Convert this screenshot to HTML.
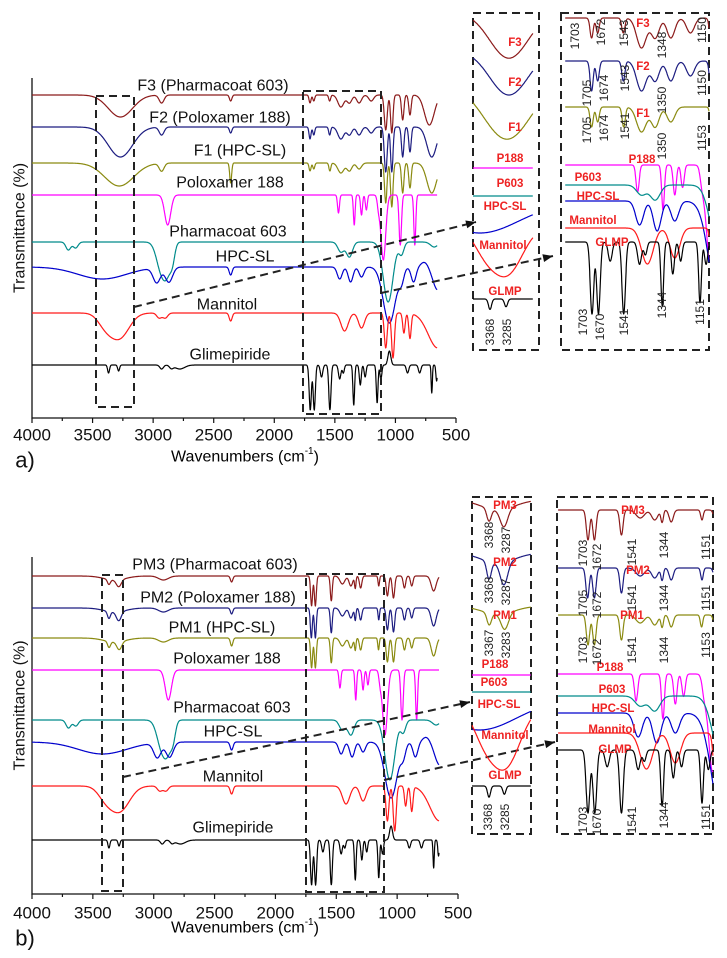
<!DOCTYPE html>
<html><head><meta charset="utf-8"><style>
html,body{margin:0;padding:0;background:#fff}
svg{display:block}
text{font-family:"Liberation Sans",Arial,sans-serif}
.tl{font-size:17px;fill:#111}
.sl{font-size:16px;fill:#111}
.il{font-size:11.5px;font-weight:bold;fill:#ee2222}
.nl{font-size:12px;fill:#222}
</style></head><body>
<svg id="fig" width="727" height="958" viewBox="0 0 727 958" xmlns="http://www.w3.org/2000/svg">
<g id="root"></g>
</svg>
<script>
// ---- spectral data: [wavenumber (cm-1), band depth (%T), half-width (cm-1)] ----
const glmpPeaks=[[3368,8,8],[3285,6,8],[2930,4,15],[2850,3,15],[2780,4,40],[1703,45,9],[1670,45,9],[1610,12,10],[1541,45,9],[1460,14,10],[1430,8,8],[1344,40,7],[1290,20,8],[1250,12,8],[1151,38,7],[1120,14,8],[1050,-14,12],[900,8,10],[800,8,10],[700,28,5],[660,16,6]];
const mannPeaks=[[3400,10,60],[3280,25,80],[2950,5,20],[2900,5,20],[2360,8,12],[1420,18,30],[1280,15,25],[1080,35,12],[1020,45,12],[930,20,10],[880,25,10],[650,35,80]];
const hpcPeaks=[[3420,12,200],[2970,15,30],[2870,15,30],[2360,8,12],[1460,12,20],[1370,15,20],[1280,10,20],[1050,56,50],[950,12,20],[850,15,20],[760,-5,30],[650,23,40]];
const p603Peaks=[[3700,8,20],[3640,6,20],[2930,30,40],[2880,20,30],[2840,15,20],[1450,10,25],[1380,15,25],[1060,60,40],[950,12,20],[680,5,30]];
const p188Peaks=[[2880,30,25],[1470,18,8],[1340,30,7],[1280,20,8],[1240,15,8],[1140,10,10],[1100,65,20],[960,50,10],[840,50,8]];
const f1Peaks=[[3280,23,120],[2930,8,20],[2360,20,8],[1705,8,8],[1674,6,8],[1541,8,8],[1450,10,25],[1380,8,20],[1300,6,20],[1080,40,10],[1030,44,10],[940,30,10],[880,25,10],[700,30,40]];
const f2Peaks=[[3270,30,100],[2930,8,20],[2360,6,10],[1705,12,8],[1674,8,8],[1543,8,8],[1450,12,25],[1380,8,20],[1300,8,20],[1200,6,20],[1080,45,12],[1030,45,10],[940,30,10],[880,25,10],[700,30,40]];
const f3Peaks=[[3270,22,100],[2930,8,20],[2360,6,10],[1705,8,8],[1674,6,8],[1543,6,8],[1450,12,25],[1380,8,20],[1300,8,20],[1200,6,20],[1080,35,12],[1030,38,10],[940,25,10],[880,20,10],[720,30,40]];
const pm3Peaks=[[3368,5,12],[3287,7,20],[3320,4,90],[2920,4,40],[2360,6,10],[1703,30,8],[1672,30,8],[1541,25,8],[1450,8,20],[1380,10,15],[1344,12,6],[1300,12,10],[1151,10,6],[1080,20,10],[1030,22,10],[940,12,10],[880,10,10],[700,15,20]];
const pm2Peaks=[[3368,7,12],[3287,9,20],[3320,4,90],[2920,4,40],[2360,6,10],[1705,30,8],[1672,30,8],[1541,25,8],[1450,8,20],[1380,10,15],[1344,12,6],[1300,12,10],[1151,12,6],[1080,22,10],[1030,24,10],[940,12,10],[880,10,10],[700,18,20]];
const pm1Peaks=[[3367,6,12],[3283,8,20],[3320,4,90],[2920,4,40],[2360,8,10],[1703,30,8],[1672,30,8],[1541,25,8],[1450,8,20],[1380,10,15],[1344,12,6],[1300,12,10],[1153,12,6],[1080,24,10],[1030,24,10],[940,12,10],[880,10,10],[700,18,20]];
const xTicks=[4000,3500,3000,2500,2000,1500,1000,500];
const bandLabelsA_F3=["1703","1672","1543","1348","1150"];
const bandLabelsA_F2=["1705","1674","1543","1350","1150"];
const bandLabelsA_F1=["1705","1674","1541","1350","1153"];
const bandLabelsGLMP=["1703","1670","1541","1344","1151"];
const bandLabelsPM3=["1703","1672","1541","1344","1151"];
const bandLabelsPM2=["1705","1672","1541","1344","1151"];
const bandLabelsPM1=["1703","1672","1541","1344","1153"];

const NS="http://www.w3.org/2000/svg";
const root=document.getElementById('root');
function mk(tag,attrs,parent){const e=document.createElementNS(NS,tag);for(const k in attrs)e.setAttribute(k,attrs[k]);(parent||root).appendChild(e);return e;}
function txt(s,x,y,cls,parent,extra){const e=mk('text',Object.assign({x:x,y:y,class:cls,'text-anchor':'middle','dominant-baseline':'central'},extra||{}),parent);e.textContent=s;return e;}
function spec(peaks,w){let s=0;for(const p of peaks){const z=(w-p[0])/p[2];s+=p[1]*Math.exp(-0.5*z*z);}return s;}
function trace(peaks,xf,base,gain,w0,w1,step,color,name,width){
  let d='';for(let w=w0;w>=w1;w-=step){const x=xf(w),y=base+gain*spec(peaks,w);d+=(d?'L':'M')+x.toFixed(1)+','+y.toFixed(1);}
  const p=mk('path',{d:d,fill:'none',stroke:color,'stroke-width':width||1.2,'stroke-linejoin':'round'});
  
  
  return p;
}
function dash(x1,y1,x2,y2,name){const l=mk('line',{x1:x1,y1:y1,x2:x2,y2:y2,stroke:'#222','stroke-width':2,'stroke-dasharray':'8,5'});}
function box(x,y,w,h,name){const r=mk('rect',{x:x,y:y,width:w,height:h,fill:'none',stroke:'#222','stroke-width':2,'stroke-dasharray':'8,5'});}
function arrow(x1,y1,x2,y2,name){dash(x1,y1,x2,y2,name);const a=Math.atan2(y2-y1,x2-x1),L=10,W=4;
  const p=mk('polygon',{points:`${x2},${y2} ${x2-L*Math.cos(a)+W*Math.sin(a)},${y2-L*Math.sin(a)-W*Math.cos(a)} ${x2-L*Math.cos(a)-W*Math.sin(a)},${y2-L*Math.sin(a)+W*Math.cos(a)}`,fill:'#111'});
  }
function rot(s,x,y,name){const e=txt(s,x,y,'nl',root,{transform:`rotate(-90 ${x} ${y})`});}

const COL={f3:'#8b1a1a',f2:'#1c1c80',f1:'#8a8a10',p188:'#ff00ff',p603:'#008b8b',hpc:'#0000cc',mann:'#ff1a1a',glmp:'#000'};

function panel(axisY,topY,x500,letter,letterY,tickY,xlabY,series){
  const xf=w=>32+(4000-w)*(x500-32)/3500;
  const ax=mk('path',{d:`M32,${topY}L32,${axisY}L${x500},${axisY}`,fill:'none',stroke:'#111','stroke-width':1.3});
  
  for(let w=4000;w>=500;w-=250){mk('line',{x1:xf(w),x2:xf(w),y1:axisY,y2:axisY+(w%500?3:5),stroke:'#111','stroke-width':1.2});}
  for(const t of xTicks){const e=txt(String(t),xf(t),tickY,'tl');}
  const xl=mk('text',{x:245,y:xlabY,'text-anchor':'middle','dominant-baseline':'central',style:'font-size:16px'});xl.innerHTML='Wavenumbers (cm<tspan dy="-6" style="font-size:10px">-1</tspan><tspan dy="6">)</tspan>';
  
  const yt=txt('Transmittance (%)',20,(topY+axisY)/2-20,'sl',root,{transform:`rotate(-90 20 ${(topY+axisY)/2-20})`,style:'font-size:16px'});
  
  const lt=txt(letter+')',25,letterY,'sl',root,{style:'font-size:22px'});
  for(const s of series){trace(s.p,xf,s.b,1,4000,655,2,s.c,'spectrum-'+s.n);
    const l=txt(s.t,s.lx,s.ly,'sl');}
  return xf;
}
// Panel a
panel(418,78,456,'a',460,435,457,[
 {p:f3Peaks,b:95,c:COL.f3,n:'f3',t:'F3 (Pharmacoat 603)',lx:213,ly:86},
 {p:f2Peaks,b:127,c:COL.f2,n:'f2',t:'F2 (Poloxamer 188)',lx:220,ly:118},
 {p:f1Peaks,b:163,c:COL.f1,n:'f1',t:'F1 (HPC-SL)',lx:240,ly:151},
 {p:p188Peaks,b:195,c:COL.p188,n:'poloxamer',t:'Poloxamer 188',lx:230,ly:183},
 {p:p603Peaks,b:242,c:COL.p603,n:'pharmacoat',t:'Pharmacoat 603',lx:228,ly:232},
 {p:hpcPeaks,b:267,c:COL.hpc,n:'hpc-sl',t:'HPC-SL',lx:245,ly:257},
 {p:mannPeaks,b:313,c:COL.mann,n:'mannitol',t:'Mannitol',lx:227,ly:305},
 {p:glmpPeaks,b:365,c:COL.glmp,n:'glimepiride',t:'Glimepiride',lx:230,ly:355}]);
box(96,96,38,311,'oh-region-box-a');box(303,91,78,323,'fingerprint-box-a');
arrow(134,307,476,222,'zoom-arrow-oh-a');arrow(381,293,553,256,'zoom-arrow-fp-a');
box(473,13,66,337,'inset-oh-a');box(561,13,148,337,'inset-fp-a');
// inset a left
{const xf=w=>490+(3368-w)*0.193;
 const L=[[f3Peaks,12,2.1,COL.f3,'F3',515,43],[f2Peaks,50,1.5,COL.f2,'F2',515,83],[f1Peaks,84,2.4,COL.f1,'F1',515,128],[p188Peaks,168,1,COL.p188,'P188',510,159],[p603Peaks,196,1,COL.p603,'P603',510,184],[hpcPeaks,203,2.5,COL.hpc,'HPC-SL',505,207],[mannPeaks,226,1.9,COL.mann,'Mannitol',503,246],[glmpPeaks,299,1.3,COL.glmp,'GLMP',505,292]];
 for(const s of L){trace(s[0],xf,s[1],s[2],3456,3145,2,s[3],'inset-oh-a-'+s[4].toLowerCase());const e=txt(s[4],s[5],s[6],'il');}
 rot('3368',490,332,'band-label');rot('3285',507,332,'band-label');}
// inset a right
{const xf=w=>592+(1703-w)*0.1957;
 const L=[[f3Peaks,18,2.5,COL.f3,'F3',643,24],[f2Peaks,61,2.5,COL.f2,'F2',643,67],[f1Peaks,107,2.5,COL.f1,'F1',643,114],[p188Peaks,165,1.5,COL.p188,'P188',642,160],[p603Peaks,185,1,COL.p603,'P603',588,178],[hpcPeaks,201,2,COL.hpc,'HPC-SL',598,197],[mannPeaks,228,2,COL.mann,'Mannitol',593,221],[glmpPeaks,242,1.6,COL.glmp,'GLMP',612,243]];
 for(const s of L){trace(s[0],xf,s[1],s[2],1840,1105,1,s[3],'inset-fp-a-'+s[4].toLowerCase());const e=txt(s[4],s[5],s[6],'il');}
 const xs=[575,601,624,662,702];
 bandLabelsA_F3.forEach((s,i)=>rot(s,xs[i],[36,32,33,45,30][i],'band-label'));
 const xs2=[587,604,625,662,702];
 bandLabelsA_F2.forEach((s,i)=>rot(s,xs2[i],[93,88,78,100,83][i],'band-label'));
 bandLabelsA_F1.forEach((s,i)=>rot(s,xs2[i],[130,128,126,146,138][i],'band-label'));
 const xs3=[583,600,624,662,700];
 bandLabelsGLMP.forEach((s,i)=>rot(s,xs3[i],[322,327,322,305,312][i],'band-label'));}
// Panel b
panel(894,557,458,'b',938,913,928,[
 {p:pm3Peaks,b:576,c:COL.f3,n:'pm3',t:'PM3 (Pharmacoat 603)',lx:215,ly:565},
 {p:pm2Peaks,b:608,c:COL.f2,n:'pm2',t:'PM2 (Poloxamer 188)',lx:218,ly:598},
 {p:pm1Peaks,b:638,c:COL.f1,n:'pm1',t:'PM1 (HPC-SL)',lx:222,ly:628},
 {p:p188Peaks,b:670,c:COL.p188,n:'poloxamer-b',t:'Poloxamer 188',lx:227,ly:659},
 {p:p603Peaks,b:720,c:COL.p603,n:'pharmacoat-b',t:'Pharmacoat 603',lx:232,ly:708},
 {p:hpcPeaks,b:742,c:COL.hpc,n:'hpc-sl-b',t:'HPC-SL',lx:233,ly:732},
 {p:mannPeaks,b:786,c:COL.mann,n:'mannitol-b',t:'Mannitol',lx:233,ly:777},
 {p:glmpPeaks,b:840,c:COL.glmp,n:'glimepiride-b',t:'Glimepiride',lx:233,ly:828}]);
box(102,575,21,316,'oh-region-box-b');box(306,574,78,318,'fingerprint-box-b');
arrow(123,777,470,702,'zoom-arrow-oh-b');arrow(384,780,555,742,'zoom-arrow-fp-b');
box(472,497,59,337,'inset-oh-b');box(557,497,156,337,'inset-fp-b');
{const xf=w=>489+(3368-w)*0.185;
 const L=[[pm3Peaks,500,2.5,COL.f3,'PM3',505,506],[pm2Peaks,553,2.5,COL.f2,'PM2',505,563],[pm1Peaks,606,2,COL.f1,'PM1',505,616],[p188Peaks,675,1,COL.p188,'P188',495,665],[p603Peaks,692,1,COL.p603,'P603',494,683],[hpcPeaks,700,2.5,COL.hpc,'HPC-SL',499,705],[mannPeaks,706,2.4,COL.mann,'Mannitol',505,736],[glmpPeaks,786,1.4,COL.glmp,'GLMP',505,776]];
 for(const s of L){trace(s[0],xf,s[1],s[2],3460,3141,2,s[3],'inset-oh-b-'+s[4].toLowerCase());const e=txt(s[4],s[5],s[6],'il');}
 rot('3368',489,535,'band-label');rot('3287',506,540,'band-label');
 rot('3368',489,590,'band-label');rot('3287',506,592,'band-label');
 rot('3367',489,643,'band-label');rot('3283',506,645,'band-label');
 rot('3368',488,817,'band-label');rot('3285',505,817,'band-label');}
{const xf=w=>588+(1703-w)*0.2065;
 const L=[[pm3Peaks,510,1,COL.f3,'PM3',633,511],[pm2Peaks,568,1,COL.f2,'PM2',638,571],[pm1Peaks,615,1,COL.f1,'PM1',632,616],[p188Peaks,674,1.5,COL.p188,'P188',610,668],[p603Peaks,696,1,COL.p603,'P603',612,690],[hpcPeaks,713,2,COL.hpc,'HPC-SL',613,709],[mannPeaks,733,2,COL.mann,'Mannitol',612,730],[glmpPeaks,750,1.4,COL.glmp,'GLMP',615,750]];
 for(const s of L){trace(s[0],xf,s[1],s[2],1848,1098,1,s[3],'inset-fp-b-'+s[4].toLowerCase());const e=txt(s[4],s[5],s[6],'il');}
 const xs=[583,597,632,664,706];
 bandLabelsPM3.forEach((s,i)=>rot(s,xs[i],[553,557,552,545,547][i],'band-label'));
 bandLabelsPM2.forEach((s,i)=>rot(s,xs[i],[603,605,598,598,598][i],'band-label'));
 bandLabelsPM1.forEach((s,i)=>rot(s,xs[i],[650,652,650,650,645][i],'band-label'));
 bandLabelsGLMP.forEach((s,i)=>rot(s,xs[i],[820,822,820,815,817][i],'band-label'));}
</script>
</body></html>
